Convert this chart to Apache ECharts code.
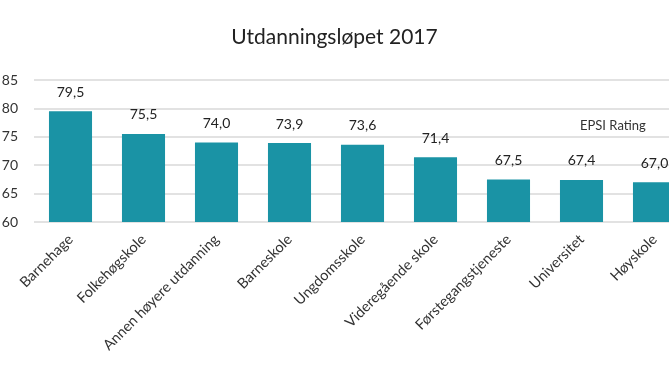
<!DOCTYPE html>
<html>
<head>
<meta charset="utf-8">
<script src="https://cdn.jsdelivr.net/npm/echarts@6/dist/echarts.min.js"></script>
<style>
  html, body { margin: 0; padding: 0; background: #fff; }
  #chart { width: 669px; height: 376px; }
</style>
</head>
<body>
<div id="chart"></div>
<script>
const categories = ['Barnehage', 'Folkehøgskole', 'Annen høyere utdanning', 'Barneskole', 'Ungdomsskole', 'Videregående skole', 'Førstegangstjeneste', 'Universitet', 'Høyskole']
const epsiRating = [79.5, 75.5, 74.0, 73.9, 73.6, 71.4, 67.5, 67.4, 67.0]
const yTicks = { min: 60, max: 85, interval: 5 }

const font = 'Lato, "Open Sans", sans-serif'
const chart = echarts.init(document.getElementById('chart'))
chart.setOption({
  animation: false,
  textStyle: { fontFamily: font },
  title: {
    text: 'Utdanningsløpet 2017',
    left: 'center',
    top: 22,
    textStyle: { fontFamily: font, fontWeight: 'normal', fontSize: 21, color: '#222' }
  },
  graphic: [{
    type: 'text',
    left: 580,
    top: 119,
    style: { text: 'EPSI Rating', font: '13px ' + font, fill: '#333' }
  }],
  // plot runs past the right edge, like the cropped original
  grid: { left: 34, width: 657, top: 80, bottom: 154, outerBoundsMode: 'none' },
  xAxis: {
    type: 'category',
    data: categories,
    axisLine: { show: false },
    axisTick: { show: false },
    axisLabel: { rotate: 45, interval: 0, fontSize: 14.5, color: '#333', margin: 15 }
  },
  yAxis: {
    type: 'value',
    min: yTicks.min,
    max: yTicks.max,
    interval: yTicks.interval,
    axisLabel: { fontSize: 14, color: '#333', margin: 16 },
    splitLine: { lineStyle: { color: '#d9d9d9', width: 1.5 } }
  },
  series: [{
    name: 'EPSI Rating',
    type: 'bar',
    data: epsiRating,
    barWidth: '59%',
    itemStyle: { color: '#1a93a5' },
    label: {
      show: true,
      position: 'top',
      distance: 12,
      fontSize: 14,
      color: '#222',
      formatter: p => p.value.toFixed(1).replace('.', ',')
    }
  }]
})
</script>
</body>
</html>
